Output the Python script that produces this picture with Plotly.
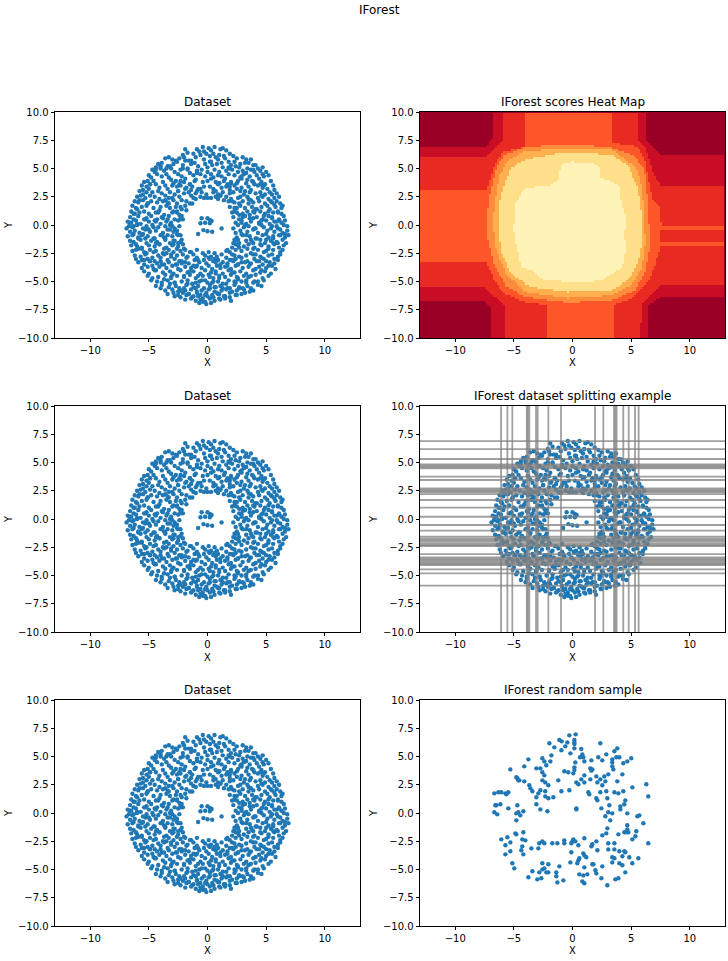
import numpy as np
import plotly.graph_objects as go

# Estimated read-offs from the reference picture (12 values per line, x and y lines correspond)
dataset_x = [
-1.9,-1.7,-0.9,-0.7,-0.4,-0.3,0.1,0.3,0.6,1.1,1.3,1.6,
-2.1,-2.0,-1.2,-1.0,-0.6,-0.1,0.2,0.5,0.7,1.0,1.4,1.9,
2.2,2.5,3.0,3.3,-3.6,-3.3,-3.0,-2.7,-2.4,-1.6,-0.3,0.3,
0.9,1.5,1.8,2.3,2.8,3.5,3.7,3.9,-4.2,-3.9,-3.4,-2.9,
-2.6,-2.1,-1.9,-1.4,-1.1,-0.8,-0.2,0.0,0.2,0.4,0.8,1.2,
1.3,2.0,2.4,2.7,3.2,3.4,4.1,4.3,-4.7,-4.5,-4.0,-3.7,
-3.1,-2.8,-2.3,-1.7,-1.5,-0.9,-0.5,0.6,1.0,1.6,2.1,2.6,
3.0,3.3,3.7,4.0,4.5,4.7,5.0,-5.0,-4.8,-4.3,-3.9,-3.5,
-3.3,-2.5,-2.2,-1.9,-1.2,-0.6,-0.2,0.3,0.5,0.9,1.2,1.8,
2.3,2.8,3.1,3.6,4.2,4.4,4.8,5.2,-5.4,-5.1,-4.6,-4.4,
-3.8,-3.1,-2.9,-2.7,-2.0,-1.5,-1.1,-0.4,0.0,0.7,1.0,1.4,
1.7,2.0,2.6,3.3,3.8,4.0,4.6,4.9,5.4,-5.6,-5.2,-4.9,
-4.1,-3.6,-3.4,-2.6,-2.3,-1.8,-1.3,-0.8,0.2,0.5,1.2,1.6,
2.3,2.5,2.9,3.5,4.3,4.7,5.1,5.6,5.7,-5.8,-5.5,-5.0,
-4.7,-4.2,-3.9,-3.2,-2.8,-2.5,-2.0,-1.6,-1.0,-0.5,-0.1,0.5,
0.9,1.3,1.9,2.2,2.8,3.1,3.6,4.1,4.5,4.9,5.3,5.5,
5.9,-6.0,-5.7,-5.3,-4.5,-4.1,-3.6,-3.0,-2.4,-2.2,-1.4,-1.2,
-0.6,0.0,0.7,1.1,1.6,2.0,2.6,3.4,3.7,4.3,4.7,5.2,
5.7,6.1,-6.2,-5.9,-5.5,-5.1,-4.8,-4.3,-3.8,-3.3,-2.9,-2.6,
-1.8,-1.5,-1.0,-0.3,0.3,0.9,1.4,1.8,2.3,2.7,3.0,3.5,
3.9,4.4,4.9,5.5,5.9,6.2,-6.4,-6.1,-5.6,-5.2,-4.6,-4.0,
-3.5,-3.2,-2.7,-2.2,-1.9,-1.3,1.9,2.5,2.8,3.2,3.8,4.2,
4.6,5.1,5.3,5.8,6.3,6.4,-6.5,-6.2,-5.8,-5.4,-5.0,-4.4,
-4.1,-3.7,-3.0,-2.6,-2.4,-1.8,2.1,2.3,3.0,3.4,3.6,4.0,
4.5,4.9,5.6,6.0,6.3,-6.6,-6.3,-5.9,-5.2,-4.8,-4.3,-3.9,
-3.3,-2.8,-2.3,-2.1,2.2,2.7,3.2,3.9,4.2,4.7,5.2,5.5,
6.1,6.5,-6.8,-6.5,-6.1,-5.7,-5.0,-4.5,-4.0,-3.5,-3.1,-2.5,
2.4,2.9,3.3,3.7,4.4,5.0,5.3,5.9,6.3,6.6,-6.7,-6.4,
-6.0,-5.5,-5.2,-4.7,-4.2,-3.6,-3.2,-2.8,-2.4,2.6,3.1,3.5,
4.1,4.6,4.8,5.5,6.0,6.5,6.8,-6.9,-6.6,-6.2,-5.8,-5.3,
-4.9,-4.4,-3.8,-3.4,-2.9,-2.6,2.4,2.8,3.4,3.9,4.3,5.1,
5.7,6.2,6.4,6.8,-6.8,-6.4,-5.9,-5.6,-5.1,-4.6,-4.0,-3.7,
-3.0,-2.5,2.5,3.0,3.6,4.1,4.7,5.2,5.6,6.1,6.6,6.9,
-6.6,-6.3,-5.7,-5.2,-4.8,-4.3,-3.6,-3.2,-2.8,-2.3,2.3,2.7,
3.3,3.8,4.5,4.9,5.4,5.9,6.4,6.7,-6.5,-6.0,-5.6,-5.0,
-4.5,-4.1,-3.5,-3.0,-2.5,-2.1,2.1,2.6,3.1,3.5,4.0,4.6,
5.2,5.7,6.1,6.5,-6.4,-6.1,-5.4,-4.9,-4.4,-3.8,-3.3,-2.9,
-2.3,-1.9,1.9,2.4,2.9,3.7,4.3,4.8,5.0,5.6,6.2,6.4,
-6.2,-5.7,-5.3,-4.7,-4.2,-3.7,-3.1,-2.6,-2.1,-1.7,-1.4,1.6,
2.1,2.7,3.3,3.9,4.5,5.2,5.5,6.0,6.2,-6.1,-5.6,-5.1,
-4.5,-4.0,-3.4,-2.8,-2.4,-1.8,-1.2,-0.9,-0.4,-0.2,0.1,0.3,
0.6,0.8,1.2,1.6,1.9,2.4,2.9,3.4,4.0,4.6,5.0,5.7,
6.0,-5.9,-5.4,-4.9,-4.3,-3.9,-3.3,-2.7,-2.2,-1.6,-1.1,-0.7,
-0.3,-0.1,0.2,0.5,0.9,1.3,1.7,2.2,2.6,3.2,3.7,4.2,
4.7,5.3,5.7,-5.6,-5.1,-4.6,-4.1,-3.5,-3.0,-2.5,-1.9,-1.4,
-0.9,-0.5,0.1,0.4,0.8,1.1,1.5,2.0,2.4,3.0,3.5,4.1,
4.4,5.0,5.5,5.8,-5.4,-5.0,-4.4,-3.8,-3.2,-2.9,-2.3,-1.7,
-1.2,-0.6,-0.2,0.3,0.7,1.3,1.8,2.3,2.8,3.3,3.9,4.5,
4.9,5.4,-5.1,-4.7,-4.2,-3.6,-3.1,-2.6,-2.0,-1.5,-1.0,-0.4,
0.1,0.5,1.0,1.5,2.0,2.6,3.1,3.5,4.1,4.7,5.2,-4.8,
-4.3,-3.9,-3.4,-2.8,-2.2,-1.7,-1.3,-0.7,-0.2,0.4,0.9,1.3,
1.8,2.4,2.9,3.3,3.9,4.3,4.8,-4.4,-3.9,-3.3,-2.7,-2.4,
-1.8,-1.2,-0.8,-0.3,0.2,0.7,1.1,1.7,2.3,2.7,3.4,3.7,
4.3,4.6,-4.0,-3.6,-3.0,-2.5,-1.9,-1.4,-0.9,-0.5,0.1,0.6,
1.2,1.6,2.1,2.5,3.1,3.6,3.9,-3.4,-2.9,-2.5,-2.1,-1.6,
-1.2,-0.6,-0.1,0.4,0.9,1.4,1.9,2.5,2.9,3.2,-2.8,-2.3,
-1.8,-1.3,-0.8,-0.4,0.0,0.5,1.0,1.5,1.9,2.4,-1.9,-1.4,
-1.0,-0.6,-0.2,0.2,0.6,1.1,1.5,2.0,-0.7,-0.4,-0.1,0.3,
-0.5,0.0,0.2,-0.6,-0.2,0.2,0.35,1.2,-0.35,0.0,0.4,-0.8,
-4.9,-3.0,-1.4,0.7,2.0,3.7,-5.5,-3.6,-1.9,1.1,2.8,4.8,
-5.1,-3.3,-2.3,2.1,3.5,5.2,-6.0,-4.2,-2.9,2.5,4.1,5.7,
-5.4,-3.8,-2.2,3.0,4.8,6.1,-6.3,-4.6,-3.0,2.9,4.4,5.9,
-5.5,-3.9,-2.6,3.3,5.0,6.2,-5.9,-4.5,-2.9,2.6,4.2,5.6,
-6.1,-4.1,-2.5,2.2,3.9,5.6,-5.6,-3.7,-2.0,-0.9,1.7,3.4,
-5.2,-3.5,-1.5,0.1,2.3,4.1,-5.4,-4.0,-2.2,-0.8,0.7,2.6,
-4.7,-2.6,-1.0,1.1,3.6,5.2,-4.5,-3.0,-1.5,0.7,2.1,3.7,
-3.7,-2.0,-0.5,1.0,2.6,4.0,-3.2,-1.7,0.0,1.6,3.3,-2.3,
0.2,1.3,2.7,-1.6,-0.2,1.0,-4.4,-2.1,0.0,1.9,3.1,4.7,
-3.2,-1.4,-0.9,0.3,2.9,3.9,-2.4,-0.3,1.5,3.4,-1.5,1.9,
-4.4,-2.5,-0.9,1.9,3.2,4.6,-5.8,-4.9,-3.4,-2.6,2.3,3.9,
-6.3,-5.3,-3.4,-2.3,2.7,3.6,5.5,6.0,-6.0,-4.4,-3.2,2.2,
3.2,4.6,5.7,-6.3,-5.0,-3.4,-2.3,2.9,4.0,5.4,-5.3,-3.6,
-2.2,2.4,3.7,5.0,-5.9,-4.4,-2.9,2.4,4.5,6.0,-4.6,-2.6,
2.7,3.9,5.2,-4.9,-3.1,-1.9,0.6,2.1,4.8,-3.7,-1.2,1.7,
2.9,4.4,-3.1,-0.8,0.2,2.5,4.6,-2.8,-1.0,0.5,2.3,3.5,
-2.0,-1.0,0.6,1.9,3.0,-0.9,0.8,-4.0,-2.3,1.0,2.5,4.5,
-1.7,0.9,2.9,-3.5,-1.0,-0.6,1.8,3.9,-5.2,5.4,-6.6,6.6,
]
dataset_y = [
6.7,6.4,6.7,6.5,6.9,6.5,6.8,6.6,6.9,6.7,6.8,6.6,
6.2,6.0,6.3,6.0,6.2,6.3,6.1,6.3,6.0,6.2,6.1,6.3,
6.1,5.9,6.0,5.8,5.9,6.0,5.8,5.7,5.9,5.7,5.8,5.6,
5.8,5.9,5.6,5.6,5.4,5.5,5.8,5.3,5.4,5.5,5.2,5.4,
5.6,5.3,5.7,5.4,5.5,5.2,5.4,5.1,5.6,5.3,5.4,5.5,
5.1,5.3,5.2,5.1,5.5,5.0,5.3,5.0,4.9,4.7,5.0,4.8,
5.0,4.7,4.9,5.0,4.6,4.8,4.9,4.9,4.7,4.8,4.9,4.7,
4.8,4.6,4.9,4.7,4.8,4.5,4.7,4.4,4.2,4.5,4.3,4.5,
4.2,4.5,4.3,4.1,4.4,4.5,4.3,4.5,4.2,4.4,4.3,4.5,
4.4,4.2,4.5,4.3,4.4,4.1,4.3,4.4,3.8,3.9,3.9,3.6,
3.8,4.0,3.7,3.9,3.8,3.6,3.9,3.8,3.9,3.8,3.7,3.9,
3.6,3.8,3.9,3.7,3.9,3.6,3.8,3.6,3.9,3.5,3.4,3.6,
3.3,3.5,3.2,3.4,3.5,3.3,3.4,3.2,3.4,3.2,3.3,3.4,
3.5,3.2,3.3,3.4,3.5,3.3,3.2,3.5,3.1,3.0,3.1,3.2,
2.9,3.0,2.8,2.9,2.7,3.0,2.8,2.9,2.8,2.9,2.7,2.9,
2.7,2.9,2.8,2.9,3.0,2.7,2.9,2.8,2.9,2.7,2.9,2.7,
2.8,2.5,2.6,2.4,2.5,2.3,2.6,2.4,2.5,2.2,2.6,2.4,
2.5,2.4,2.5,2.6,2.5,2.3,2.4,2.5,2.2,2.4,2.5,2.3,
2.4,2.5,2.1,2.0,2.2,1.9,2.1,2.0,2.1,1.9,2.2,1.9,
2.1,1.9,2.3,2.4,2.4,2.3,2.2,2.1,2.0,1.9,2.1,1.9,
2.0,2.1,1.9,2.0,2.1,1.9,1.7,1.5,1.6,1.7,1.5,1.6,
1.7,1.5,1.6,1.4,1.7,1.9,1.6,1.5,1.7,1.5,1.6,1.4,
1.6,1.7,1.4,1.6,1.5,1.7,1.2,1.0,1.1,1.2,1.0,1.1,
1.3,0.9,1.1,1.2,0.9,1.3,1.1,1.2,1.0,1.2,0.9,1.1,
1.2,1.0,1.1,1.2,1.0,0.7,0.5,0.8,0.6,0.8,0.5,0.7,
0.8,0.5,0.7,0.5,0.7,0.5,0.8,0.6,0.7,0.5,0.8,0.6,
0.5,0.8,0.3,0.2,0.4,0.1,0.3,0.4,0.1,0.3,0.2,0.4,
0.2,0.4,0.1,0.3,0.2,0.4,0.1,0.3,0.2,0.4,-0.1,-0.2,
0.0,-0.3,-0.1,0.0,-0.2,-0.1,0.0,-0.3,-0.1,0.0,-0.2,-0.1,
-0.3,0.0,-0.2,-0.1,-0.3,0.0,-0.1,-0.3,-0.6,-0.5,-0.7,-0.4,
-0.6,-0.5,-0.7,-0.4,-0.6,-0.5,-0.7,-0.5,-0.6,-0.4,-0.7,-0.5,
-0.6,-0.4,-0.7,-0.5,-1.0,-0.9,-1.1,-0.9,-1.0,-1.2,-0.9,-1.1,
-1.0,-0.9,-1.1,-0.9,-1.0,-1.2,-0.9,-1.1,-1.0,-0.9,-1.1,-0.9,
-1.4,-1.5,-1.3,-1.6,-1.4,-1.5,-1.3,-1.6,-1.4,-1.5,-1.3,-1.6,
-1.4,-1.5,-1.3,-1.6,-1.4,-1.5,-1.3,-1.6,-1.8,-1.9,-2.0,-1.8,
-1.9,-1.7,-2.0,-1.8,-1.9,-1.7,-2.0,-1.8,-1.9,-1.7,-2.0,-1.8,
-1.9,-1.7,-2.0,-1.8,-2.3,-2.2,-2.4,-2.2,-2.3,-2.5,-2.2,-2.4,
-2.3,-2.2,-2.4,-2.2,-2.3,-2.5,-2.2,-2.4,-2.3,-2.2,-2.4,-2.2,
-2.7,-2.8,-2.6,-2.9,-2.7,-2.6,-2.8,-2.7,-2.6,-2.8,-2.4,-2.3,
-2.6,-2.8,-2.7,-2.6,-2.8,-2.7,-2.6,-2.8,-2.6,-3.0,-3.1,-3.0,
-3.2,-2.9,-3.1,-3.0,-3.2,-2.9,-2.6,-2.9,-2.5,-2.7,-2.4,-2.8,
-2.5,-2.8,-2.6,-2.9,-3.1,-3.0,-2.9,-3.2,-3.0,-2.9,-3.2,-3.0,
-3.1,-3.3,-3.5,-3.2,-3.4,-3.5,-3.3,-3.5,-3.2,-3.4,-3.1,-3.3,
-3.1,-3.4,-3.0,-3.2,-3.1,-3.3,-3.4,-3.2,-3.5,-3.3,-3.4,-3.2,
-3.5,-3.3,-3.4,-3.8,-3.7,-3.9,-3.7,-3.8,-3.6,-3.9,-3.7,-3.8,
-3.6,-3.8,-3.6,-3.9,-3.6,-3.8,-3.7,-3.9,-3.6,-3.8,-3.7,-3.9,
-3.7,-3.8,-3.6,-3.9,-4.1,-4.3,-4.0,-4.2,-4.1,-4.3,-4.0,-4.2,
-4.1,-4.3,-4.0,-4.2,-4.1,-4.3,-4.0,-4.2,-4.1,-4.3,-4.0,-4.2,
-4.1,-4.3,-4.5,-4.7,-4.6,-4.4,-4.7,-4.5,-4.6,-4.4,-4.7,-4.5,
-4.4,-4.7,-4.5,-4.6,-4.4,-4.7,-4.5,-4.6,-4.4,-4.7,-4.5,-4.9,
-5.0,-5.1,-4.9,-5.1,-5.0,-4.9,-5.2,-5.0,-4.9,-5.1,-5.0,-5.2,
-4.9,-5.1,-5.0,-4.9,-5.1,-5.0,-4.9,-5.4,-5.3,-5.5,-5.4,-5.6,
-5.3,-5.5,-5.4,-5.6,-5.3,-5.5,-5.4,-5.6,-5.3,-5.5,-5.4,-5.6,
-5.3,-5.4,-5.6,-5.8,-5.7,-5.9,-5.8,-5.7,-5.9,-5.8,-5.7,-5.9,
-5.8,-5.7,-5.9,-5.8,-5.7,-5.9,-5.8,-6.1,-6.0,-6.2,-6.0,-6.1,
-6.3,-6.2,-6.0,-6.2,-6.1,-6.3,-6.0,-6.2,-6.1,-6.0,-6.3,-6.4,
-6.2,-6.4,-6.3,-6.5,-6.3,-6.4,-6.5,-6.3,-6.4,-6.2,-6.6,-6.5,
-6.7,-6.6,-6.8,-6.5,-6.7,-6.6,-6.5,-6.7,-6.9,-6.8,-7.0,-6.9,
0.6,0.6,0.45,0.15,0.2,0.15,0.35,-0.3,-0.45,-0.55,-0.6,-0.8,
3.6,3.5,3.1,3.0,3.7,3.1,2.7,2.2,3.2,2.6,2.5,3.5,
1.9,2.4,1.6,2.1,2.3,1.2,1.4,1.1,1.2,1.1,1.4,1.8,
0.5,0.6,0.8,0.7,0.8,0.4,-0.1,-0.2,-0.1,0.2,0.1,-0.1,
-0.8,-0.9,-0.8,-0.9,-0.8,-0.9,-1.2,-1.2,-1.4,-1.3,-1.2,-1.2,
-1.7,-1.7,-1.6,-1.6,-1.6,-1.6,-2.1,-2.1,-2.1,-2.2,-2.2,-2.1,
-2.5,-2.5,-2.4,-2.9,-2.7,-2.6,-3.1,-3.2,-3.4,-3.1,-3.3,-3.5,
-3.6,-3.5,-3.7,-3.5,-3.5,-3.6,-4.0,-4.4,-4.1,-4.3,-4.2,-4.5,
-4.8,-4.5,-4.9,-4.7,-4.8,-5.0,-5.2,-5.2,-5.1,-5.2,-5.1,-5.8,
-5.6,-5.6,-5.6,-6.1,-6.2,-6.1,5.1,5.0,4.7,5.0,4.6,5.1,
5.2,5.7,4.6,4.1,4.1,3.8,3.6,3.4,4.1,4.0,3.6,3.4,
4.9,3.0,3.0,3.1,3.0,2.6,2.2,2.6,2.0,1.1,1.5,1.2,
1.0,0.5,0.5,0.5,0.9,0.6,0.7,1.1,0.1,0.3,-0.4,-0.3,
0.0,0.4,0.3,-0.8,-0.4,-0.9,-0.9,-0.8,-0.3,-0.3,-1.2,-1.2,
-1.3,-1.3,-1.3,-1.3,-2.1,-1.6,-1.7,-1.7,-1.7,-1.6,-2.4,-2.1,
-2.0,-2.1,-2.1,-3.2,-2.6,-3.3,-3.0,-3.1,-3.0,-3.5,-3.6,-3.6,
-3.3,-3.2,-4.6,-4.5,-4.6,-4.6,-4.0,-5.1,-5.1,-5.0,-5.0,-4.6,
-5.6,-5.6,-5.5,-5.6,-5.6,-6.0,-6.0,5.2,3.9,3.7,3.7,3.6,
4.9,3.6,4.3,5.0,4.0,3.2,5.1,4.9,2.9,2.1,0.2,-0.8,
]

sample_x = [
0.27,-0.27,0.16,0.16,0.16,-1.12,-0.92,-0.44,-1.97,2.37,-1.55,-0.61,-0.95,0.16,0.75,3.82,3.57,-0.18,-1.80,0.84,
0.64,0.92,-2.57,-3.76,-2.40,-1.89,-2.23,1.01,2.20,2.54,1.61,2.88,3.39,3.74,3.99,3.39,4.33,4.67,5.01,0.24,
-4.11,-5.30,-3.08,-2.74,3.39,3.48,1.52,1.69,1.61,0.16,0.16,-0.70,-0.36,0.07,-2.57,-2.40,1.01,4.25,3.05,2.03,
2.71,-4.79,-4.70,-4.62,-4.53,-4.11,-2.57,-2.32,-1.21,0.75,1.52,2.12,2.37,2.80,3.82,0.33,0.50,1.01,-3.68,-2.06,
2.54,5.10,6.29,-3.59,-3.42,-2.74,-2.91,-2.32,-0.95,-0.27,1.35,1.43,2.37,2.88,3.57,3.91,4.33,-6.66,-6.32,-6.07,
-5.72,-5.64,-5.47,-3.08,-2.32,-2.06,-1.63,6.46,2.03,2.97,2.12,4.50,-3.08,-4.70,-6.58,-6.49,-6.15,3.14,4.42,4.08,
4.08,-5.47,-2.74,-2.14,0.33,0.33,2.46,-4.19,-4.79,-4.62,-4.45,-6.66,-6.41,3.05,3.39,4.67,2.80,5.70,5.53,-4.79,
3.22,6.04,4.67,2.97,4.67,4.42,4.59,4.76,5.44,2.88,2.54,3.91,5.36,5.10,-4.19,-4.87,-4.79,-5.55,-6.07,-4.28,
-4.02,-5.30,-5.72,-4.28,-2.57,-2.83,-2.40,-1.72,-1.29,-0.70,-0.70,0.07,-0.01,-0.10,0.24,1.01,2.03,3.05,3.57,6.46,
0.50,1.69,1.61,-3.51,-2.91,-4.36,2.12,3.05,3.57,3.99,4.42,4.50,-5.30,-5.72,-4.19,-0.10,0.92,1.01,1.18,0.58,
0.50,3.39,3.57,4.25,4.84,5.61,-5.13,-0.18,0.41,1.69,1.78,3.39,3.99,4.25,5.10,-2.57,-2.06,-4.96,-1.12,-2.57,
-2.40,1.01,2.54,-2.83,-3.42,-2.23,-2.06,-1.38,1.95,2.03,4.50,0.58,0.92,1.26,-1.38,-3.76,-3.00,-2.66,2.46,3.65,
3.91,-0.78,-1.29,0.84,1.01,2.97,
]
sample_y = [
6.96,6.87,6.46,6.25,6.11,6.46,6.34,6.25,6.17,6.17,5.81,5.90,5.55,5.72,5.66,5.72,5.46,5.28,5.10,5.19,
4.93,4.93,4.84,4.75,4.57,4.57,4.22,4.57,4.93,4.66,4.66,5.19,4.75,4.93,4.93,4.48,4.40,4.57,4.84,4.48,
4.13,3.86,3.95,3.95,4.13,3.86,3.95,3.86,3.75,4.04,3.81,3.69,3.60,3.51,3.60,3.33,3.33,3.42,3.42,3.24,
3.24,3.16,3.07,2.89,2.89,2.80,2.89,2.71,2.89,2.98,2.98,2.71,2.98,2.80,2.80,2.71,2.54,2.71,2.45,2.45,
2.45,2.27,2.54,2.18,1.92,2.01,1.74,1.92,1.92,2.01,1.83,1.65,1.83,1.92,1.83,1.74,1.92,1.74,1.83,1.83,
1.74,1.65,1.83,1.39,1.47,1.30,1.39,1.47,1.30,1.30,1.12,1.12,0.77,0.68,0.68,0.68,0.77,0.68,0.77,0.59,
0.32,0.41,0.32,0.15,0.41,0.32,0.41,0.15,-0.03,0.06,-0.21,0.06,-0.12,0.06,-0.03,-0.03,-0.29,-0.21,-0.29,-0.65,
-0.65,-0.91,-1.09,-1.36,-1.45,-1.71,-1.71,-1.71,-1.62,-1.80,-1.98,-1.89,-2.06,-2.33,-1.71,-1.80,-1.89,-2.15,-2.33,-2.33,
-2.42,-2.60,-2.86,-2.95,-2.51,-2.68,-2.68,-2.68,-2.68,-2.42,-2.68,-2.33,-2.51,-2.68,-2.51,-2.24,-2.51,-2.68,-2.68,-2.68,
-2.86,-2.77,-2.95,-3.13,-3.13,-3.30,-3.30,-3.22,-3.22,-3.39,-3.39,-3.48,-3.39,-3.66,-3.66,-3.48,-3.57,-3.75,-3.92,-4.01,
-4.19,-3.92,-4.01,-3.83,-3.92,-4.01,-4.45,-4.37,-4.45,-4.54,-4.54,-4.37,-4.45,-4.63,-4.45,-4.45,-4.54,-4.90,-4.72,-4.99,
-4.90,-4.81,-4.72,-5.25,-5.16,-5.25,-5.25,-5.25,-5.07,-5.34,-5.25,-5.43,-5.52,-5.43,-5.60,-5.69,-5.87,-5.78,-5.78,-5.87,
-5.78,-5.96,-6.14,-6.05,-6.22,-6.40,
]

split_vertical_x = [-6.09,-5.55,-5.13,-3.9,-3.8,-3.68,-3.11,-2.97,-2.06,-0.98,1.92,2.63,3.54,3.65,3.76,4.33,4.79,5.33,5.64]
split_horizontal_y = [6.9,6.19,5.31,4.84,4.72,4.6,4.48,3.75,3.45,2.71,2.6,2.48,2.36,2.21,1.68,1.0,0.2,-0.53,-1.03,-1.56,
                      -1.71,-1.86,-2.0,-2.15,-2.3,-2.39,-3.1,-3.39,-3.5,-3.62,-3.74,-3.86,-3.98,-4.07,-4.45,-4.81,-5.9]

# Heat-map score bands: outline of the region where the band index is at least 1, 2, ... 7
band1_x = [-6.83,-6.83,-7.46,-13,-13,-7.6,-6.95,-6.95,6.43,6.43,7.6,13,13,7.6,6.26,6.26]
band1_y = [10,7.52,6.84,6.84,-6.64,-6.64,-7.23,-10,-10,-7.08,-6.34,-6.34,6.14,6.14,7.52,10]
band2_x = [-5.92,-5.92,-7.32,-13,-13,-7.6,-5.75,-5.75,5.75,5.9,7.46,13,13,7.46,6.8,6.46,6.18,5.55,5.55]
band2_y = [10,7.52,6.05,6.05,-5.46,-5.46,-7.08,-10,-10,-7.02,-5.31,-5.31,3.54,3.54,4.87,5.9,6.78,7.52,10]
band3_x = [-4.05,-4.05,-5.9,-6.6,-7.32,-13,-13,-7.32,-6.6,-5.75,-4.05,-2.17,-2.17,3.45,3.45,5.04,6.46,7.03,7.54,13,13,7.46,7.46,13,13,7.54,7.46,6.8,6.46,6.18,5.55,3.28,3.28]
band3_y = [10,6.84,6.49,5.31,3.1,3.1,-3.24,-3.24,-5.01,-6.05,-6.78,-7.08,-10,-10,-7.08,-6.49,-5.01,-3.54,-1.86,-1.86,-1.47,-1.47,-0.44,-0.44,0,0,1.47,2.36,4.13,5.6,6.93,7.23,10]
band4_x = [-4.05,-0.64,1.35,3.34,5.04,6.12,6.32,6.46,6.6,6.18,5.33,3.34,-0.36,-4.05,-5.75,-6.75,-7.23,-7.26,-7.03,-6.46,-5.75]
band4_y = [6.84,7.14,7.02,6.78,6.19,5.01,2.95,0.88,-1.77,-4.13,-5.75,-6.64,-6.84,-6.34,-5.31,-3.24,-1.18,0.88,2.65,5.16,6.19]
band5_x = [-4.05,-0.64,3.34,5.47,5.9,6.12,6.18,5.9,5.04,3.34,-0.36,-3.91,-5.61,-6.46,-6.75,-6.6,-6.18,-5.61]
band5_y = [6.49,6.78,6.64,5.01,3.24,0.88,-1.77,-3.83,-5.31,-6.19,-6.43,-5.9,-4.42,-2.36,0,2.06,4.42,5.6]
band6_x = [-4.05,-0.64,3.34,4.76,5.55,5.84,5.9,5.61,4.76,3.34,-0.36,-3.48,-5.18,-5.98,-6.32,-6.32,-5.9,-5.33]
band6_y = [5.75,6.4,6.19,5.16,3.24,1.18,-1.47,-3.24,-4.87,-5.75,-5.9,-5.46,-4.42,-2.65,-0.59,1.47,3.24,4.87]
band7_x = [-0.07,2.2,2.34,3.96,4.05,4.62,4.33,4.62,4.19,2.49,0.78,-2.49,-3.48,-4.33,-4.76,-5.04,-4.9,-4.9,-4.05,-1.92,-1.21,-0.92]
band7_y = [5.55,5.31,4.28,3.54,2.36,0.29,-1.03,-1.77,-3.83,-4.87,-5.16,-4.87,-3.98,-3.83,-1.77,-0.29,0.44,1.77,3.3,3.54,3.98,5.31]
heat_colors = ["#9a0026","#c90d25","#e92a22","#fd5729","#fd8d3c","#feb04e","#fee08a","#fff3b8"]

x_ticks = [-10, -5, 0, 5, 10]
x_tick_labels = ["\u221210", "\u22125", "0", "5", "10"]
y_ticks = [-10, -7.5, -5, -2.5, 0, 2.5, 5, 7.5, 10]
panel_titles = ["Dataset", "IForest scores Heat Map", "Dataset", "IForest dataset splitting example",
                "Dataset", "IForest random sample"]

W, H = 728, 961
M_T, M_B = 30, 20
cols = [(55, 360), (420, 725)]
rows = [(112, 338), (406, 632), (700, 926)]
BLUE = "#1f77b4"
FONT = "DejaVu Sans"
TEXT = dict(family=FONT, color="black")

def py(p):
    # pixel row of the page -> fraction of the plot area
    return (H - M_B - p) / (H - M_T - M_B)

fig = go.Figure()

def axis_name(n, letter):
    return letter + ("" if n == 1 else str(n))

layout = {}
annotations = []
for n in range(1, 7):
    r, c = (n - 1) // 2, (n - 1) % 2
    common = dict(showgrid=False, zeroline=False, showline=True, mirror=True, linecolor="black", linewidth=0.8,
                  ticks="outside", ticklen=3.5, tickwidth=0.8, tickcolor="black", tickfont=dict(TEXT, size=10))
    layout["xaxis" + ("" if n == 1 else str(n))] = dict(common, domain=[cols[c][0] / W, cols[c][1] / W], range=[-13, 13],
                      tickmode="array", tickvals=x_ticks, ticktext=x_tick_labels, anchor=axis_name(n, "y"))
    layout["yaxis" + ("" if n == 1 else str(n))] = dict(common, domain=[py(rows[r][1]), py(rows[r][0])], range=[-10, 10],
                      tickmode="array", tickvals=y_ticks, tickformat=".1f", anchor=axis_name(n, "x"))
    mid = (cols[c][0] + cols[c][1]) / 2 / W
    annotations.append(dict(text=panel_titles[n - 1], x=mid, y=py(rows[r][0] - 1), xref="paper", yref="paper",
                            xanchor="center", yanchor="bottom", showarrow=False, font=dict(TEXT, size=12)))
    annotations.append(dict(text="X", x=mid, y=py(rows[r][1] + 25), xref="paper", yref="paper",
                            xanchor="center", yanchor="middle", showarrow=False, font=dict(TEXT, size=10)))
    annotations.append(dict(text="Y", x=(cols[c][0] - 47) / W, y=py((rows[r][0] + rows[r][1]) / 2), xref="paper", yref="paper",
                            xanchor="center", yanchor="middle", textangle=-90, showarrow=False, font=dict(TEXT, size=10)))
annotations.append(dict(text="IForest", x=379 / W, y=py(10), xref="paper", yref="paper", xanchor="center", yanchor="middle",
                        showarrow=False, font=dict(TEXT, size=12)))

def scatter(n, xs, ys):
    fig.add_trace(go.Scatter(x=xs, y=ys, mode="markers", marker=dict(size=4.4, color=BLUE, line=dict(width=0)),
                             xaxis=axis_name(n, "x"), yaxis=axis_name(n, "y"), showlegend=False))

scatter(1, dataset_x, dataset_y)
scatter(3, dataset_x, dataset_y)
scatter(4, dataset_x, dataset_y)
scatter(5, dataset_x, dataset_y)
scatter(6, sample_x, sample_y)

def inside(px, py_, gx, gy):
    px, py_ = np.array(px, float), np.array(py_, float)
    qx, qy = np.roll(px, 1), np.roll(py_, 1)
    res = np.zeros(gx.shape, dtype=bool)
    for x1, y1, x2, y2 in zip(px, py_, qx, qy):
        if y1 == y2:
            continue
        cross = (y1 > gy) != (y2 > gy)
        res ^= cross & (gx < (x2 - x1) * (gy - y1) / (y2 - y1) + x1)
    return res

grid_x = np.linspace(-13, 13, 153)
grid_y = np.linspace(-10, 10, 113)
gx, gy = np.meshgrid(grid_x, grid_y)
z = np.zeros(gx.shape, dtype=int)
outlines = [(band1_x, band1_y), (band2_x, band2_y), (band3_x, band3_y), (band4_x, band4_y),
            (band5_x, band5_y), (band6_x, band6_y), (band7_x, band7_y)]
for k, (px, py_) in enumerate(outlines, start=1):
    z[inside(px, py_, gx, gy)] = k
nb = len(heat_colors)
scale = []
for i, col in enumerate(heat_colors):
    scale += [[i / nb, col], [(i + 1) / nb, col]]
fig.add_trace(go.Heatmap(x=grid_x, y=grid_y, z=z.tolist(), colorscale=scale, zmin=-0.5, zmax=7.5, showscale=False,
                         hoverinfo="skip", xaxis="x2", yaxis="y2"))

LINE = dict(color="rgba(128,128,128,0.75)", width=1.8)
for v in split_vertical_x:
    fig.add_trace(go.Scatter(x=[v, v], y=[-10, 10], mode="lines", line=LINE, xaxis="x4", yaxis="y4", showlegend=False, hoverinfo="skip"))
for h in split_horizontal_y:
    fig.add_trace(go.Scatter(x=[-13, 13], y=[h, h], mode="lines", line=LINE, xaxis="x4", yaxis="y4", showlegend=False, hoverinfo="skip"))

fig.update_layout(width=W, height=H, margin=dict(l=0, r=0, t=M_T, b=M_B), paper_bgcolor="white", plot_bgcolor="white",
                  showlegend=False, annotations=annotations, **layout)

fig.write_html("out.html", config={"displayModeBar": False}, post_script="document.body.style.margin='0';")
